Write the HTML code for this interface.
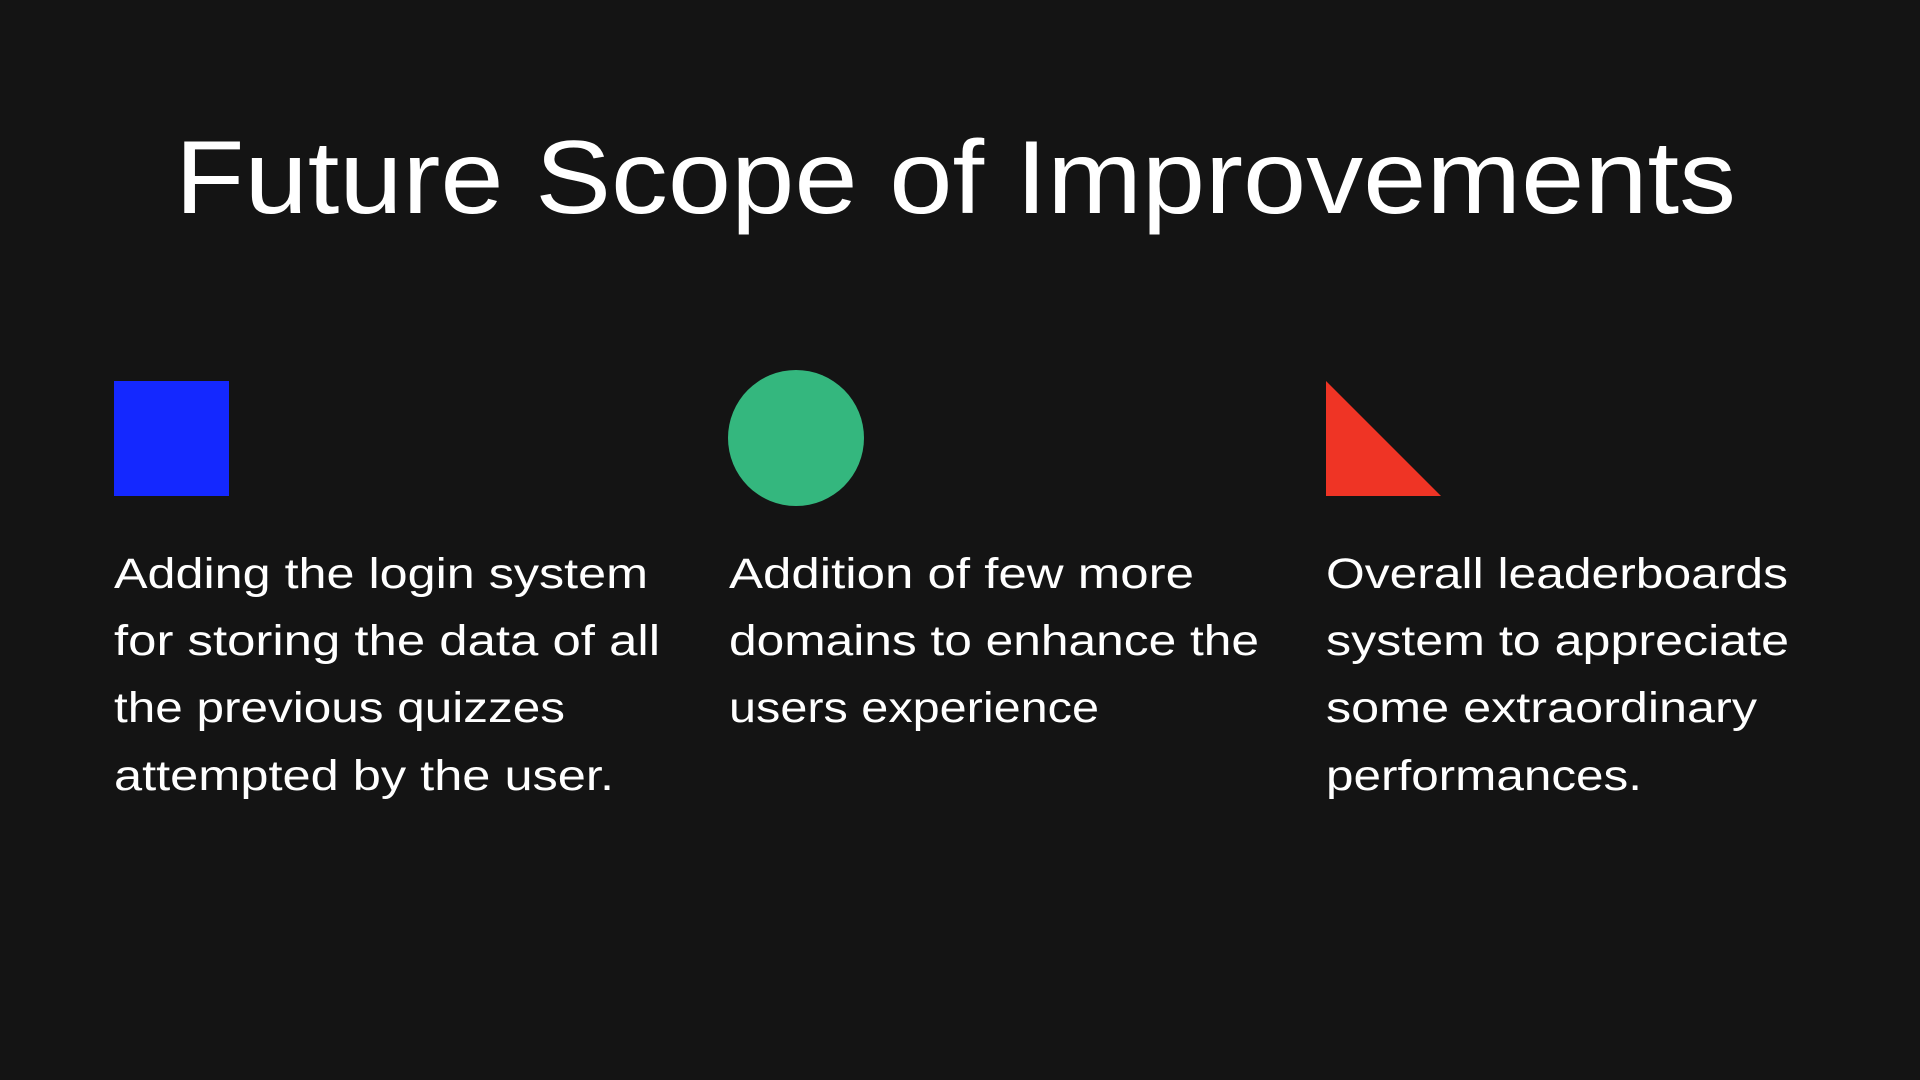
<!DOCTYPE html>
<html><head><meta charset="utf-8"><style>
html,body{margin:0;padding:0;background:#141414;}
svg{display:block;}
text{font-family:"Liberation Sans",sans-serif;fill:#ffffff;}
</style></head><body>
<svg width="1920" height="1080" viewBox="0 0 1920 1080" xmlns="http://www.w3.org/2000/svg">
<rect width="1920" height="1080" fill="#141414"/>
<text x="175" y="213" font-size="104" textLength="1561" lengthAdjust="spacingAndGlyphs">Future Scope of Improvements</text>
<rect x="114" y="381" width="115" height="115" fill="#1428ff"/>
<circle cx="796" cy="438" r="68" fill="#34b77e"/>
<polygon points="1326,381 1326,496 1441,496" fill="#ef3425"/>
<g font-size="43" fill="#f2f2f2">
<text x="114" y="588" textLength="534" lengthAdjust="spacingAndGlyphs">Adding the login system</text>
<text x="114" y="655" textLength="546" lengthAdjust="spacingAndGlyphs">for storing the data of all</text>
<text x="114" y="722" textLength="451" lengthAdjust="spacingAndGlyphs">the previous quizzes</text>
<text x="114" y="790" textLength="500" lengthAdjust="spacingAndGlyphs">attempted by the user.</text>
<text x="729" y="588" textLength="465" lengthAdjust="spacingAndGlyphs">Addition of few more</text>
<text x="729" y="655" textLength="530" lengthAdjust="spacingAndGlyphs">domains to enhance the</text>
<text x="729" y="722" textLength="370" lengthAdjust="spacingAndGlyphs">users experience</text>
<text x="1326" y="588" textLength="462" lengthAdjust="spacingAndGlyphs">Overall leaderboards</text>
<text x="1326" y="655" textLength="463" lengthAdjust="spacingAndGlyphs">system to appreciate</text>
<text x="1326" y="722" textLength="431" lengthAdjust="spacingAndGlyphs">some extraordinary</text>
<text x="1326" y="790" textLength="316" lengthAdjust="spacingAndGlyphs">performances.</text>
</g>
</svg>
</body></html>
